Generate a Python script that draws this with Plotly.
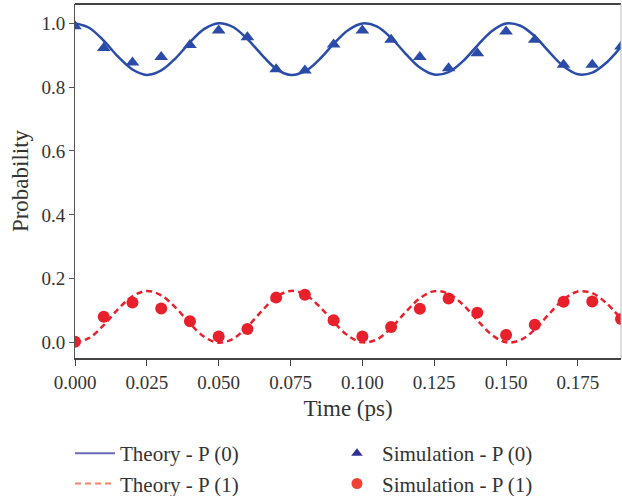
import plotly.graph_objects as go

t_theory = [0.000, 0.005, 0.010, 0.015, 0.020, 0.025, 0.030, 0.035, 0.040, 0.045,
            0.050, 0.055, 0.060, 0.065, 0.070, 0.075, 0.080, 0.085, 0.090, 0.095,
            0.100, 0.105, 0.110, 0.115, 0.120, 0.125, 0.130, 0.135, 0.140, 0.145,
            0.150, 0.155, 0.160, 0.165, 0.170, 0.175, 0.180, 0.185, 0.190]
p1_theory = [0.000, 0.015, 0.055, 0.105, 0.145, 0.162, 0.148, 0.110, 0.060, 0.018,
             0.000, 0.012, 0.050, 0.099, 0.143, 0.162, 0.151, 0.114, 0.065, 0.022,
             0.001, 0.010, 0.046, 0.095, 0.139, 0.161, 0.153, 0.119, 0.070, 0.025,
             0.001, 0.008, 0.041, 0.090, 0.135, 0.160, 0.155, 0.123, 0.074]
p0_theory = [1.000, 0.985, 0.945, 0.895, 0.855, 0.838, 0.852, 0.890, 0.940, 0.982,
             1.000, 0.988, 0.950, 0.901, 0.857, 0.838, 0.849, 0.886, 0.935, 0.978,
             0.999, 0.990, 0.954, 0.905, 0.861, 0.839, 0.847, 0.881, 0.930, 0.975,
             0.999, 0.992, 0.959, 0.910, 0.865, 0.840, 0.845, 0.877, 0.926]

# Simulation points
t_sim = [0.00, 0.01, 0.02, 0.03, 0.04, 0.05, 0.06, 0.07, 0.08, 0.09,
         0.10, 0.11, 0.12, 0.13, 0.14, 0.15, 0.16, 0.17, 0.18, 0.19]
p0_sim = [0.990, 0.922, 0.877, 0.894, 0.932, 0.977, 0.956, 0.856, 0.852, 0.933,
          0.977, 0.948, 0.894, 0.859, 0.906, 0.974, 0.948, 0.870, 0.870, 0.927]
p1_sim = [0.003, 0.081, 0.126, 0.107, 0.067, 0.019, 0.043, 0.141, 0.150, 0.070,
          0.019, 0.049, 0.106, 0.138, 0.094, 0.024, 0.056, 0.128, 0.129, 0.074]

x_ticks = [0.000, 0.025, 0.050, 0.075, 0.100, 0.125, 0.150, 0.175]
x_tick_labels = ["0.000", "0.025", "0.050", "0.075", "0.100", "0.125", "0.150", "0.175"]
y_ticks = [0.0, 0.2, 0.4, 0.6, 0.8, 1.0]
y_tick_labels = ["0.0", "0.2", "0.4", "0.6", "0.8", "1.0"]

legend_names = ["Theory - P (0)", "Simulation - P (0)", "Theory - P (1)", "Simulation - P (1)"]

BLUE = "#2a4ca8"
RED = "#e8202c"
FONT = "Liberation Serif"

fig = go.Figure()

fig.add_trace(go.Scatter(x=t_theory, y=p0_theory, mode="lines",
                         line=dict(color=BLUE, width=2.5, shape="spline"),
                         showlegend=False))
fig.add_trace(go.Scatter(x=t_theory, y=p1_theory, mode="lines",
                         line=dict(color=RED, width=2.5, dash="6px,4px", shape="spline"),
                         showlegend=False))
fig.add_trace(go.Scatter(x=t_sim, y=p0_sim, mode="markers",
                         marker=dict(symbol="triangle-up", size=12, color=BLUE),
                         showlegend=False))
fig.add_trace(go.Scatter(x=t_sim, y=p1_sim, mode="markers",
                         marker=dict(symbol="circle", size=12, color=RED),
                         showlegend=False))

# Legend entries (styled as in the reference legend)
fig.add_trace(go.Scatter(x=[None], y=[None], mode="lines", name=legend_names[0],
                         line=dict(color="#6a6ab4", width=2)))
fig.add_trace(go.Scatter(x=[None], y=[None], mode="markers", name=legend_names[1],
                         marker=dict(symbol="triangle-up", size=10, color="#2e3192")))
fig.add_trace(go.Scatter(x=[None], y=[None], mode="lines", name=legend_names[2],
                         line=dict(color="#f4806a", width=2, dash="6px,4px")))
fig.add_trace(go.Scatter(x=[None], y=[None], mode="markers", name=legend_names[3],
                         marker=dict(symbol="circle", size=11, color="#ef4136")))

fig.update_layout(
    width=622, height=496,
    margin=dict(l=75, r=1, t=4, b=138, autoexpand=False),
    paper_bgcolor="white", plot_bgcolor="white",
    font=dict(family=FONT, size=19, color="#333333"),
    xaxis=dict(range=[0, 0.19], tickvals=x_ticks, ticktext=x_tick_labels,
               showgrid=False, zeroline=False, showline=True, linecolor="#444444",
               linewidth=1.5, ticks="outside", ticklen=6, tickcolor="#444444",
               title=dict(text="Time (ps)", standoff=8)),
    yaxis=dict(range=[-0.048, 1.06], tickvals=y_ticks, ticktext=y_tick_labels,
               showgrid=False, zeroline=False, showline=True, linecolor="#555555",
               linewidth=1, ticks="outside", ticklen=5, tickcolor="#555555",
               title=dict(text="Probability", standoff=6)),
    legend=dict(orientation="h", x=-0.0092, xanchor="left",
                y=-0.212, yanchor="top",
                entrywidth=207, entrywidthmode="pixels", traceorder="normal",
                font=dict(family=FONT, size=21, color="#333333"),
                tracegroupgap=0, itemwidth=40),
    shapes=[
        dict(type="line", xref="paper", yref="paper", x0=0, x1=1, y0=1, y1=1,
             line=dict(color="#444444", width=2)),
        dict(type="line", xref="paper", yref="paper", x0=1, x1=1, y0=0, y1=1,
             line=dict(color="#bbbbbb", width=1)),
    ],
)

fig.write_html("out.html")
